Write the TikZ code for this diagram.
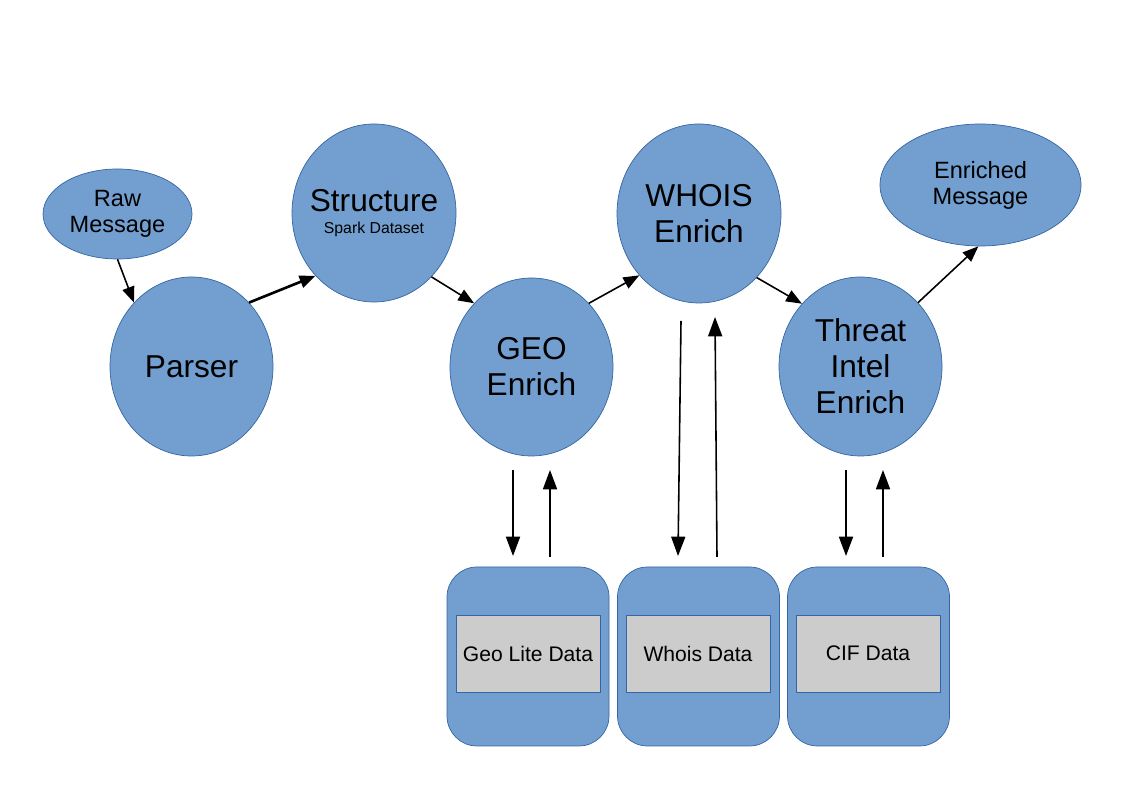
\documentclass[tikz,border=0pt]{standalone}
\usepackage{fontspec}
\setmainfont{Liberation Sans}
\usepackage{tikz}
\usetikzlibrary{arrows.meta, shapes.geometric}
\definecolor{nodeblue}{HTML}{729FCF}
\definecolor{lineblue}{HTML}{3465A4}
\definecolor{tablegray}{HTML}{CCCCCC}

\begin{document}
\begin{tikzpicture}[
  stage/.style={ellipse, draw=lineblue, fill=nodeblue, inner sep=0pt, align=center,
    minimum width=3.26cm, minimum height=3.58cm, font=\fontsize{18}{20.5}\selectfont},
  endpoint/.style={ellipse, draw=lineblue, fill=nodeblue, inner sep=0pt, align=center,
    font=\fontsize{13.4}{14.8}\selectfont},
  store/.style={draw=lineblue, fill=nodeblue, rounded corners=0.6cm,
    minimum width=3.24cm, minimum height=3.58cm},
  table/.style={draw=lineblue, fill=tablegray, minimum width=2.88cm, minimum height=1.54cm,
    font=\fontsize{12}{14}\selectfont},
  flow/.style={line width=0.9pt, -{Triangle[length=9pt, width=7pt]}},
  lookup/.style={line width=0.9pt, -{Triangle[length=11pt, width=8pt]}}
]
\useasboundingbox (0,0) rectangle (22.46,15.88);
% pipeline stages
\node[endpoint, minimum width=2.98cm, minimum height=1.80cm] (raw) at (2.35,11.60) {Raw\\Message};
\node[stage] (parser) at (3.83,8.55) {Parser};
\node[stage, minimum width=3.28cm, minimum height=3.56cm, inner xsep=-5pt] (structure) at (7.48,11.62)
  {Structure\\[-8pt]{\fontsize{9}{10}\selectfont Spark Dataset}};
\node[stage, minimum height=3.56cm] (geo) at (10.63,8.54) {GEO\\Enrich};
\node[stage, minimum width=3.28cm] (whois) at (13.98,11.61) {WHOIS\\Enrich};
\node[stage] (threat) at (17.21,8.55) {Threat\\Intel\\Enrich};
\node[endpoint, minimum width=4.02cm, minimum height=2.44cm] (enriched) at (19.61,12.18) {Enriched\\Message};
% data stores
\node[store] (geostore) at (10.56,2.75) {};
\node[store] (whoisstore) at (13.97,2.75) {};
\node[store] (cifstore) at (17.37,2.75) {};
\node[table] (geodata) at (10.56,2.81) {Geo Lite Data};
\node[table] (whoisdata) at (13.96,2.81) {Whois Data};
\node[table] (cifdata) at (17.36,2.81) {CIF Data};
% flow between stages
\draw[flow] (raw.south) -- (parser.132);
\draw[flow, line width=1.5pt] (parser.48) -- (structure.227);
\draw[flow] (structure.312) -- (geo.132);
\draw[flow] (geo.48) -- (whois.226);
\draw[flow] (whois.312) -- (threat.133);
\draw[flow] (threat.48) -- (enriched.268);
% lookups
\coordinate (geoask) at (10.26,6.48);
\coordinate (geoin) at (10.26,4.76);
\coordinate (geoout) at (11.0,4.74);
\coordinate (georeply) at (11.0,6.48);
\coordinate (whoisask) at (13.62,9.46);
\coordinate (whoisin) at (13.56,4.76);
\coordinate (whoisout) at (14.34,4.74);
\coordinate (whoisreply) at (14.30,9.54);
\coordinate (cifask) at (16.92,6.48);
\coordinate (cifin) at (16.92,4.76);
\coordinate (cifout) at (17.66,4.74);
\coordinate (cifreply) at (17.66,6.48);
\draw[lookup] (geoask) -- (geoin);
\draw[lookup] (geoout) -- (georeply);
\draw[lookup] (whoisask) -- (whoisin);
\draw[lookup] (whoisout) -- (whoisreply);
\draw[lookup] (cifask) -- (cifin);
\draw[lookup] (cifout) -- (cifreply);
\end{tikzpicture}
\end{document}
